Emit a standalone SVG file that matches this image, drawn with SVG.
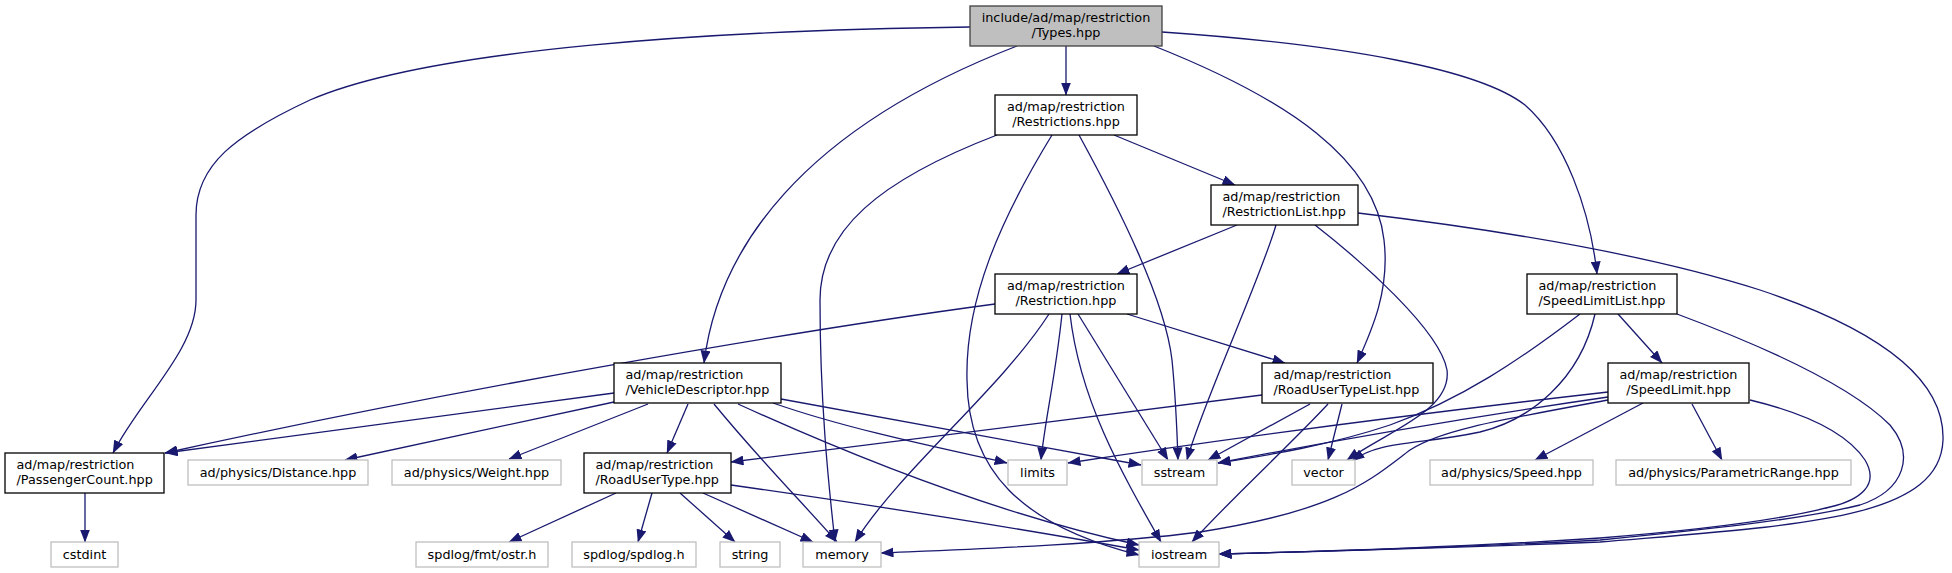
<svg xmlns="http://www.w3.org/2000/svg" width="1952" height="573" viewBox="0 0 1952 573">
<defs>
<style>
.e{fill:none;stroke:#191970;stroke-width:1.3;marker-end:url(#ah)}
.n rect{fill:#ffffff;stroke:#000000;stroke-width:1.3}
.x rect{fill:#ffffff;stroke:#bfbfbf;stroke-width:1.3}
.r rect{fill:#bfbfbf;stroke:#404040;stroke-width:1.3}
text{font-family:"DejaVu Sans","Liberation Sans",sans-serif;font-size:12.8px;fill:#000000}
.c{text-anchor:middle}
</style>
<marker id="ah" markerUnits="userSpaceOnUse" markerWidth="13" markerHeight="10" viewBox="0 0 13 10" refX="12.5" refY="5" orient="auto">
<path d="M0,0 L13,5 L0,10 z" fill="#191970"/>
</marker>
</defs>
<rect width="1952" height="573" fill="#ffffff"/>
<g id="edges">
<path class="e" d="M970,27 C720,30 430,48 310,100 C235,135 196,165 196,215 L196,300 C196,350 140,400 113,453"/>
<path class="e" d="M1066,46 L1066,95"/>
<path class="e" d="M1017,46 C800,130 718,250 704,363"/>
<path class="e" d="M1154,46 C1290,100 1375,160 1384,240 C1390,290 1372,330 1357,363"/>
<path class="e" d="M1162,32 C1350,45 1480,70 1525,105 C1565,140 1590,210 1597,274"/>
<path class="e" d="M1114,135 L1235,185"/>
<path class="e" d="M997,135 C880,180 820,230 820,300 C820,400 828,480 835,542"/>
<path class="e" d="M1052,135 C1000,220 965,300 967,380 C968,470 1020,525 1139,555"/>
<path class="e" d="M1079,135 C1120,210 1165,300 1172,360 C1176,400 1177,430 1178,460"/>
<path class="e" d="M1237,225 L1117,274"/>
<path class="e" d="M1276,225 C1260,280 1200,410 1187,460"/>
<path class="e" d="M1315,225 C1360,260 1440,330 1447,370 C1452,410 1390,430 1347,460"/>
<path class="e" d="M1358,213 C1500,230 1650,255 1760,290 C1880,330 1945,380 1943,440 C1940,520 1800,525 1600,542 C1450,548 1300,552 1219,554"/>
<path class="e" d="M995,304 C800,330 450,390 165,453"/>
<path class="e" d="M1127,314 L1285,363"/>
<path class="e" d="M1049,314 C1000,390 900,470 855,542"/>
<path class="e" d="M1062,314 C1055,380 1045,420 1041,460"/>
<path class="e" d="M1070,314 C1080,400 1120,470 1161,542"/>
<path class="e" d="M1078,314 L1168,460"/>
<path class="e" d="M614,393 L165,453"/>
<path class="e" d="M614,402 L345,460"/>
<path class="e" d="M648,404 L509,459"/>
<path class="e" d="M688,404 L667,453"/>
<path class="e" d="M714,404 C760,460 800,500 837,542"/>
<path class="e" d="M738,404 C850,455 1000,515 1139,545"/>
<path class="e" d="M773,403 C850,430 950,450 1007,463"/>
<path class="e" d="M781,399 L1141,465"/>
<path class="e" d="M616,493 L509,542"/>
<path class="e" d="M652,493 L638,542"/>
<path class="e" d="M680,493 L735,542"/>
<path class="e" d="M703,493 L813,542"/>
<path class="e" d="M731,485 C850,502 1000,525 1139,550"/>
<path class="e" d="M1262,395 L731,462"/>
<path class="e" d="M1310,404 L1208,460"/>
<path class="e" d="M1328,404 C1290,445 1230,500 1192,542"/>
<path class="e" d="M1342,404 L1328,460"/>
<path class="e" d="M1580,314 C1520,360 1460,400 1390,425 C1330,445 1270,455 1218,463"/>
<path class="e" d="M1595,314 C1580,380 1530,420 1480,432 C1420,445 1380,440 1352,461"/>
<path class="e" d="M1618,314 L1662,363"/>
<path class="e" d="M1677,314 C1760,345 1850,385 1890,425 C1915,455 1905,490 1860,505 C1800,520 1700,530 1600,540 C1450,548 1300,552 1219,554"/>
<path class="e" d="M1608,392 C1450,410 1250,435 1068,463"/>
<path class="e" d="M1608,397 C1450,420 1300,447 1218,463"/>
<path class="e" d="M1608,400 C1500,420 1440,430 1410,450 C1370,480 1340,510 1200,532 C1100,545 950,550 881,553"/>
<path class="e" d="M1750,400 C1800,412 1845,430 1865,460 C1880,485 1860,500 1830,507 C1780,520 1700,530 1600,538 C1450,548 1300,552 1219,554"/>
<path class="e" d="M1643,403 L1535,460"/>
<path class="e" d="M1692,404 L1722,460"/>
<path class="e" d="M85,493 L85,542"/>
</g>
<g id="n_types" class="r"><rect x="970" y="6" width="192" height="40"/><text class="c" x="1066" y="22">include/ad/map/restriction</text><text class="c" x="1066" y="37">/Types.hpp</text></g>
<g id="n_restrictions" class="n"><rect x="995" y="95" width="142" height="40"/><text class="c" x="1066" y="111">ad/map/restriction</text><text class="c" x="1066" y="126">/Restrictions.hpp</text></g>
<g id="n_restrictionlist" class="n"><rect x="1211" y="185" width="147" height="40"/><text x="1222.5" y="201">ad/map/restriction</text><text x="1222.5" y="216">/RestrictionList.hpp</text></g>
<g id="n_restriction" class="n"><rect x="995" y="274" width="142" height="40"/><text class="c" x="1066" y="290">ad/map/restriction</text><text class="c" x="1066" y="305">/Restriction.hpp</text></g>
<g id="n_speedlimitlist" class="n"><rect x="1527" y="274" width="150" height="40"/><text x="1538.5" y="290">ad/map/restriction</text><text x="1538.5" y="305">/SpeedLimitList.hpp</text></g>
<g id="n_vehicledescriptor" class="n"><rect x="614" y="363" width="167" height="40"/><text x="625.5" y="379">ad/map/restriction</text><text x="625.5" y="394">/VehicleDescriptor.hpp</text></g>
<g id="n_roadusertypelist" class="n"><rect x="1262" y="363" width="171" height="40"/><text x="1273.5" y="379">ad/map/restriction</text><text x="1273.5" y="394">/RoadUserTypeList.hpp</text></g>
<g id="n_speedlimit" class="n"><rect x="1608" y="363" width="141" height="40"/><text class="c" x="1678.5" y="379">ad/map/restriction</text><text class="c" x="1678.5" y="394">/SpeedLimit.hpp</text></g>
<g id="n_passengercount" class="n"><rect x="5" y="453" width="159" height="40"/><text x="16.5" y="469">ad/map/restriction</text><text x="16.5" y="484">/PassengerCount.hpp</text></g>
<g id="n_roadusertype" class="n"><rect x="584" y="453" width="147" height="40"/><text x="595.5" y="469">ad/map/restriction</text><text x="595.5" y="484">/RoadUserType.hpp</text></g>
<g id="n_distance" class="x"><rect x="188" y="460" width="180" height="25"/><text class="c" x="278" y="476.5">ad/physics/Distance.hpp</text></g>
<g id="n_weight" class="x"><rect x="392" y="460" width="169" height="25"/><text class="c" x="476.5" y="476.5">ad/physics/Weight.hpp</text></g>
<g id="n_limits" class="x"><rect x="1008" y="460" width="59" height="25"/><text class="c" x="1037.5" y="476.5">limits</text></g>
<g id="n_sstream" class="x"><rect x="1142" y="460" width="75" height="25"/><text class="c" x="1179.5" y="476.5">sstream</text></g>
<g id="n_vector" class="x"><rect x="1292" y="460" width="63" height="25"/><text class="c" x="1323.5" y="476.5">vector</text></g>
<g id="n_speed" class="x"><rect x="1430" y="460" width="163" height="25"/><text class="c" x="1511.5" y="476.5">ad/physics/Speed.hpp</text></g>
<g id="n_parametricrange" class="x"><rect x="1616" y="460" width="235" height="25"/><text class="c" x="1733.5" y="476.5">ad/physics/ParametricRange.hpp</text></g>
<g id="n_cstdint" class="x"><rect x="51" y="542" width="67" height="25"/><text class="c" x="84.5" y="558.5">cstdint</text></g>
<g id="n_ostr" class="x"><rect x="416" y="542" width="132" height="25"/><text class="c" x="482" y="558.5">spdlog/fmt/ostr.h</text></g>
<g id="n_spdlog" class="x"><rect x="572" y="542" width="124" height="25"/><text class="c" x="634" y="558.5">spdlog/spdlog.h</text></g>
<g id="n_string" class="x"><rect x="720" y="542" width="60" height="25"/><text class="c" x="750" y="558.5">string</text></g>
<g id="n_memory" class="x"><rect x="803" y="542" width="78" height="25"/><text class="c" x="842" y="558.5">memory</text></g>
<g id="n_iostream" class="x"><rect x="1139" y="542" width="80" height="25"/><text class="c" x="1179" y="558.5">iostream</text></g>
</svg>
